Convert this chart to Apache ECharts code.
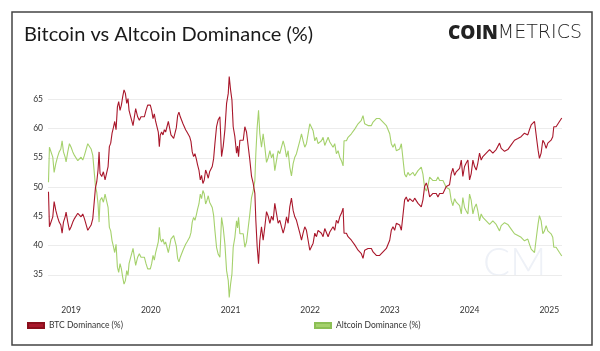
<!DOCTYPE html>
<html><head><meta charset="utf-8">
<script src="https://cdn.jsdelivr.net/npm/echarts@6/dist/echarts.min.js"></script>
<style>html,body{margin:0;padding:0;background:#fff}#c{width:600px;height:351px}</style>
</head><body><div id="c"></div>
<script>
var yearTicks = [2019, 2020, 2021, 2022, 2023, 2024, 2025];
var yTicks = [35, 40, 45, 50, 55, 60, 65];
var seriesNames = ['BTC Dominance (%)', 'Altcoin Dominance (%)'];
var years = [
2018.716,2018.728,2018.749,2018.770,2018.787,2018.808,2018.829,2018.850,2018.871,2018.887,2018.904,2018.925,2018.937,2018.958,2018.979,
2019.000,2019.021,2019.042,2019.063,2019.084,2019.104,2019.125,2019.146,2019.167,2019.188,2019.209,2019.230,2019.251,2019.272,2019.288,
2019.305,2019.322,2019.338,2019.351,2019.363,2019.384,2019.405,2019.426,2019.447,2019.464,2019.480,2019.497,2019.514,2019.530,2019.547,
2019.564,2019.581,2019.597,2019.614,2019.631,2019.647,2019.664,2019.681,2019.698,2019.714,
2019.727,2019.744,2019.760,2019.777,2019.794,2019.810,2019.835,2019.856,2019.877,2019.898,2019.919,2019.940,2019.961,2019.977,2019.994,
2020.011,2020.028,2020.044,2020.061,2020.078,2020.094,2020.107,2020.119,2020.136,2020.153,2020.170,2020.186,2020.203,2020.220,2020.236,
2020.253,2020.270,2020.287,2020.303,2020.320,2020.337,2020.353,2020.370,2020.387,2020.404,2020.420,2020.437,2020.454,2020.470,2020.487,
2020.504,2020.520,2020.537,2020.554,2020.571,2020.587,2020.604,2020.621,2020.637,2020.654,2020.671,2020.688,2020.704,2020.721,2020.738,
2020.754,2020.771,2020.788,
2020.805,2020.825,2020.846,2020.867,2020.888,2020.909,2020.930,2020.951,2020.972,2020.984,2021.001,2021.018,2021.034,2021.055,2021.076,
2021.089,2021.101,2021.118,2021.139,2021.160,2021.180,2021.201,2021.222,2021.243,2021.264,2021.285,2021.306,2021.318,2021.335,2021.352,
2021.368,2021.389,2021.410,2021.431,2021.452,2021.473,2021.494,2021.515,2021.536,2021.556,2021.577,2021.598,2021.619,2021.640,2021.661,
2021.682,2021.703,2021.723,2021.744,2021.765,2021.786,2021.807,2021.828,2021.849,2021.870,2021.891,2021.911,2021.932,2021.953,2021.974,
2021.995,2022.016,2022.037,2022.058,2022.079,2022.099,2022.120,2022.141,2022.162,2022.183,2022.204,2022.225,2022.246,2022.267,2022.287,
2022.308,2022.329,2022.350,2022.371,2022.392,2022.413,2022.425,2022.455,2022.475,2022.496,2022.517,2022.538,2022.559,2022.580,2022.601,
2022.622,2022.642,2022.663,2022.684,2022.705,2022.726,2022.747,2022.768,2022.789,2022.810,2022.830,2022.851,2022.872,2022.893,2022.914,
2022.935,2022.956,2022.977,2022.998,2023.018,2023.039,2023.060,2023.081,2023.102,
2023.123,2023.144,2023.165,2023.185,2023.206,2023.227,2023.248,2023.269,2023.290,2023.311,2023.332,2023.353,2023.373,2023.394,2023.415,
2023.436,2023.457,2023.478,2023.499,2023.520,2023.541,2023.561,2023.582,2023.603,2023.624,2023.645,2023.666,2023.687,2023.708,2023.728,
2023.749,2023.770,2023.791,2023.812,2023.833,2023.854,2023.875,2023.896,2023.916,2023.937,2023.958,2023.979,2024.000,2024.021,2024.042,
2024.063,2024.084,2024.104,2024.125,2024.146,2024.167,2024.188,2024.209,2024.230,2024.251,2024.272,2024.292,2024.313,2024.334,2024.355,
2024.376,2024.397,2024.418,2024.439,2024.460,2024.480,2024.501,2024.522,2024.543,2024.564,2024.585,2024.606,2024.627,2024.647,2024.668,
2024.689,2024.710,2024.731,2024.752,2024.773,2024.794,2024.815,2024.827,2024.844,2024.860,2024.877,2024.898,2024.919,2024.940,2024.961,
2024.982,2025.003,2025.023,2025.044,2025.057,2025.074,2025.086,2025.099,2025.111,2025.128,2025.149,2025.157
];
var btc = [
49.2,43.2,43.5,44.9,47.5,46.0,44.9,44.0,43.5,42.1,44.0,44.9,45.7,44.0,42.6,
43.2,44.0,44.6,44.9,45.5,45.2,44.9,45.4,44.6,44.3,42.6,42.3,43.5,44.6,44.9,
49.8,50.9,52.9,56.0,52.3,51.8,52.6,51.2,50.9,53.5,56.9,57.5,59.2,60.1,61.2,
59.8,63.7,64.6,63.1,64.0,65.4,66.6,66.0,64.3,65.1,
63.1,62.2,61.4,60.5,60.8,63.4,62.0,61.4,62.0,61.9,62.0,63.1,64.0,63.7,64.0,
63.1,61.7,62.5,61.2,61.4,59.4,56.9,58.9,59.4,58.9,59.8,59.4,60.3,61.2,60.1,
58.9,58.6,58.3,58.0,60.1,62.2,62.8,62.0,61.4,60.8,60.5,59.8,59.4,59.2,58.6,
57.8,56.0,55.2,55.7,54.8,53.8,52.9,51.2,52.0,50.6,51.2,52.9,52.3,51.5,52.6,
52.9,53.5,54.8,
57.5,60.3,61.5,62.0,55.2,57.0,59.8,64.3,66.0,68.9,66.6,64.9,60.3,58.6,55.8,
57.0,55.2,58.0,58.3,58.0,60.3,59.4,59.1,54.6,51.8,50.6,48.9,44.3,39.8,36.9,
40.9,43.2,40.9,43.2,45.8,45.0,43.8,45.0,44.3,47.2,45.5,43.8,44.3,43.2,42.1,
43.2,44.9,43.8,46.6,48.1,46.0,44.9,44.3,43.2,42.1,40.9,42.1,43.2,42.6,40.9,
39.2,39.8,40.4,42.1,41.5,42.6,42.9,42.1,41.5,42.9,42.6,41.5,42.3,42.1,43.2,
42.6,44.3,43.8,44.9,45.5,46.4,42.1,42.1,41.5,41.8,40.9,40.6,40.1,39.8,39.2,
38.9,38.6,37.8,39.2,38.9,39.5,39.2,39.5,38.9,38.6,38.3,38.1,38.3,38.6,38.9,
39.2,39.5,39.2,40.9,42.6,43.2,42.6,43.8,43.8,
43.5,42.6,42.3,47.8,48.3,47.5,48.0,47.8,47.5,48.1,47.8,47.2,47.5,46.6,47.8,
50.1,50.7,49.8,48.3,48.0,48.9,48.6,48.9,48.3,48.9,49.2,48.9,49.5,50.1,50.2,
50.4,52.3,53.2,52.0,52.6,52.3,53.2,54.6,51.8,53.5,54.1,54.6,51.2,52.3,54.6,
53.5,52.9,54.1,55.8,54.6,55.2,54.9,55.8,55.5,56.4,56.4,55.8,55.5,56.4,56.1,
57.5,56.6,56.4,56.1,55.8,56.4,56.6,57.2,57.5,58.0,57.8,58.3,58.0,58.6,58.9,
59.2,59.5,58.9,59.8,60.6,60.9,61.2,61.5,58.0,56.3,54.9,55.8,58.0,57.5,56.6,
57.5,57.2,58.0,58.6,60.3,60.6,60.3,60.0,60.6,61.2,61.5,61.8
];
var alt = [
50.8,56.8,56.5,55.1,52.5,54.0,55.1,56.0,56.5,57.9,56.0,55.1,54.3,56.0,57.4,
56.8,56.0,55.4,55.1,54.5,54.8,55.1,54.6,55.4,55.7,57.4,57.7,56.5,55.4,55.1,
50.2,49.1,47.1,44.0,47.7,48.2,47.4,48.8,49.1,46.5,43.1,42.5,40.8,39.9,38.8,
40.2,36.3,35.4,36.9,36.0,34.6,33.4,34.0,35.7,34.9,
36.9,37.8,38.6,39.5,39.2,36.6,38.0,38.6,38.0,38.1,38.0,36.9,36.0,36.3,36.0,
36.9,38.3,37.5,38.8,38.6,40.6,43.1,41.1,40.6,41.1,40.2,40.6,39.7,38.8,39.9,
41.1,41.4,41.7,42.0,39.9,37.8,37.2,38.0,38.6,39.2,39.5,40.2,40.6,40.8,41.4,
42.2,44.0,44.8,44.3,45.2,46.2,47.1,48.8,48.0,49.4,48.8,47.1,47.7,48.5,47.4,
47.1,46.5,45.2,
42.5,39.7,38.5,38.0,44.8,43.0,40.2,35.7,34.0,31.1,33.4,35.1,39.7,41.4,44.2,
43.0,44.8,42.0,41.7,42.0,39.7,40.6,40.9,45.4,48.2,49.4,51.1,55.7,60.2,63.1,
59.1,56.8,59.1,56.8,54.2,55.0,56.2,55.0,55.7,52.8,54.5,56.2,55.7,56.8,57.9,
56.8,55.1,56.2,53.4,51.9,54.0,55.1,55.7,56.8,57.9,59.1,57.9,56.8,57.4,59.1,
60.8,60.2,59.6,57.9,58.5,57.4,57.1,57.9,58.5,57.1,57.4,58.5,57.7,57.9,56.8,
57.4,55.7,56.2,55.1,54.5,53.6,57.9,57.9,58.5,58.2,59.1,59.4,59.9,60.2,60.8,
61.1,61.4,62.2,60.8,61.1,60.5,60.8,60.5,61.1,61.4,61.7,61.9,61.7,61.4,61.1,
60.8,60.5,60.8,59.1,57.4,56.8,57.4,56.2,56.2,
56.5,57.4,57.7,52.2,51.7,52.5,52.0,52.2,52.5,51.9,52.2,52.8,52.5,53.4,52.2,
49.9,49.3,50.2,51.7,52.0,51.1,51.4,51.1,51.7,51.1,50.8,51.1,50.5,49.9,49.8,
49.6,47.7,46.8,48.0,47.4,47.7,46.8,45.4,48.2,46.5,45.9,45.4,48.8,47.7,45.4,
46.5,47.1,45.9,44.2,45.4,44.8,45.1,44.2,44.5,43.6,43.6,44.2,44.5,43.6,43.9,
42.5,43.4,43.6,43.9,44.2,43.6,43.4,42.8,42.5,42.0,42.2,41.7,42.0,41.4,41.1,
40.8,40.5,41.1,40.2,39.4,39.1,38.8,38.5,42.0,43.7,45.1,44.2,42.0,42.5,43.4,
42.5,42.8,42.0,41.4,39.7,39.4,39.7,40.0,39.4,38.8,38.5,38.2
];

var RED = '#a9172b', GREEN = '#a5d16c';
function pairs(vals){ return years.map(function(y,i){ return [y, vals[i]]; }); }

var chart = echarts.init(document.getElementById('c'), null, {renderer:'canvas'});
chart.setOption({
  animation: false,
  backgroundColor: '#fff',
  textStyle: {fontFamily: 'Lato'},
  grid: {left: 48, right: 38, top: 70, bottom: 47},
  xAxis: {
    type: 'value', min: 2018.71, max: 2025.16,
    axisLine: {show: false}, axisTick: {show: false}, splitLine: {show: false},
    axisLabel: {customValues: yearTicks, formatter: function(v){ return String(Math.round(v)); },
      fontSize: 8.5, color: '#333', margin: 2, fontFamily: 'Lato'}
  },
  yAxis: {
    type: 'value', min: 30, max: 70, interval: 5,
    axisLine: {show: false}, axisTick: {show: false},
    axisLabel: {formatter: function(v){ return yTicks.indexOf(v) >= 0 ? String(v) : ''; },
      fontSize: 8.5, color: '#333', margin: 5, fontFamily: 'Lato'},
    splitLine: {show: true, showMinLine: false, showMaxLine: false, lineStyle: {color: '#ececec', width: 1}}
  },
  legend: [
    {data: [seriesNames[0]], left: 22, top: 316, itemWidth: 16, itemHeight: 5, itemGap: 4, icon: 'rect',
     textStyle: {fontSize: 8.5, color: '#333', fontFamily: 'Lato'}},
    {data: [seriesNames[1]], left: 309, top: 316, itemWidth: 16, itemHeight: 5, itemGap: 4, icon: 'rect',
     textStyle: {fontSize: 8.5, color: '#333', fontFamily: 'Lato'}}
  ],
  graphic: [
    {type: 'rect', shape: {x: 12, y: 12, width: 580, height: 333}, style: {fill: 'none', stroke: '#444', lineWidth: 1.5}, z: 100},
    {type: 'text', left: 24, top: 25, style: {text: 'Bitcoin vs Altcoin Dominance (%)', fontSize: 20, fontFamily: 'Lato', fill: '#1a1a1a'}},
    {type: 'text', right: 18, top: 24, style: {
      text: '{b|COIN}{l|METRICS}',
      rich: {b: {fontSize: 19, fontWeight: 800, fontFamily: 'Open Sans', fill: '#222'},
             l: {fontSize: 19, fontWeight: 200, fontFamily: 'DejaVu Sans', fill: '#222'}}}},
    {type: 'text', left: 483, top: 243, style: {text: 'CM', fontSize: 40, fontFamily: 'Lato', fontWeight: 300, fill: '#eef1f7'}, z: -1}
  ],
  series: [
    {name: seriesNames[0], type: 'line', data: pairs(btc), showSymbol: false, color: RED,
     lineStyle: {width: 1.1, color: RED}, itemStyle: {color: RED, borderColor: '#8a0f1c', borderWidth: 1}, z: 3},
    {name: seriesNames[1], type: 'line', data: pairs(alt), showSymbol: false, color: GREEN,
     lineStyle: {width: 1.1, color: GREEN}, itemStyle: {color: GREEN, borderColor: '#8cbf55', borderWidth: 1}, z: 2}
  ]
});
</script></body></html>
